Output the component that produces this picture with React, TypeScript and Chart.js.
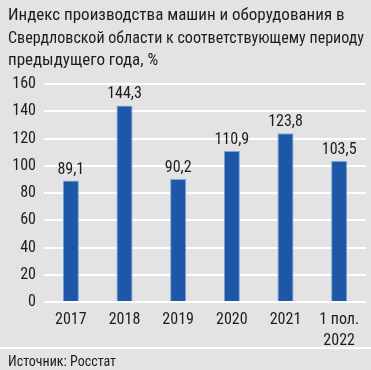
import React, { useEffect, useRef } from "react";
import { Chart, registerables } from "chart.js";

Chart.register(...registerables);

const titleLines = [
  "Индекс производства машин и оборудования в",
  "Свердловской области к соответствующему периоду",
  "предыдущего года, %",
];
const categories: (string | string[])[] = ["2017", "2018", "2019", "2020", "2021", ["1 пол.", "2022"]];
const values = [89.1, 144.3, 90.2, 110.9, 123.8, 103.5];
const valueLabels = ["89,1", "144,3", "90,2", "110,9", "123,8", "103,5"];
const yTicks = [0, 20, 40, 60, 80, 100, 120, 140, 160];
const sourceText = "Источник: Росстат";

const FONT = '"Liberation Sans Narrow", "Roboto Condensed", "Arial Narrow", "DejaVu Sans Condensed", sans-serif';
const TEXT = "#1c1c1c";
const BG = "#e3e3e3";

export default function App() {
  const ref = useRef<HTMLCanvasElement | null>(null);
  useEffect(() => {
    document.body.style.margin = "0";
    const canvas = ref.current!;
    const decor = {
      id: "decor",
      beforeDraw(chart: any) {
        const c = chart.ctx;
        c.save();
        c.fillStyle = BG;
        c.fillRect(0, 0, chart.width, chart.height);
        c.restore();
      },
      afterDraw(chart: any) {
        const c = chart.ctx;
        c.save();
        c.fillStyle = TEXT;
        c.textBaseline = "alphabetic";
        c.textAlign = "left";
        c.font = `17px ${FONT}`;
        titleLines.forEach((t, i) => c.fillText(t, 8, 20 + i * 22.5, 356));
        // value labels
        const meta = chart.getDatasetMeta(0);
        c.textAlign = "center";
        c.textBaseline = "bottom";
        c.font = `16px ${FONT}`;
        meta.data.forEach((bar: any, i: number) => {
          c.fillText(valueLabels[i], bar.x, bar.y - 3);
        });
        // separator
        c.fillStyle = "#ffffff";
        c.fillRect(0, 347, chart.width, 2);
        c.fillStyle = TEXT;
        c.textAlign = "left";
        c.textBaseline = "alphabetic";
        c.font = `14px ${FONT}`;
        c.fillText(sourceText, 8, 366);
        c.restore();
      },
    };
    const chart = new Chart(canvas, {
      type: "bar",
      data: {
        labels: categories,
        datasets: [
          {
            data: values,
            backgroundColor: "#1f57a8",
            borderColor: "#7ea6da",
            borderWidth: 1,
            barPercentage: 0.3,
            categoryPercentage: 1,
          },
        ],
      },
      options: {
        animation: false,
        responsive: false,
        maintainAspectRatio: false,
        devicePixelRatio: 1,
        layout: { padding: { top: 84, right: 5, left: 0, bottom: 0 } },
        plugins: { legend: { display: false }, tooltip: { enabled: false }, title: { display: false } },
        scales: {
          x: {
            grid: { display: false, drawTicks: false },
            border: { display: false },
            ticks: {
              color: TEXT,
              font: { family: FONT, size: 16, lineHeight: 1.3 },
              padding: 8,
              maxRotation: 0,
              autoSkip: false,
            },
            afterFit(s: any) {
              s.height = 68;
            },
          },
          y: {
            min: 0,
            max: 160,
            afterBuildTicks(s: any) {
              s.ticks = yTicks.map((v) => ({ value: v }));
            },
            grid: { color: "#ffffff", lineWidth: 2, drawTicks: false },
            border: { display: false },
            ticks: {
              color: TEXT,
              font: { family: FONT, size: 16 },
              padding: 8,
            },
            afterFit(s: any) {
              s.width = 44;
            },
          },
        },
      },
      plugins: [decor],
    });
    return () => chart.destroy();
  }, []);
  return (
    <div style={{ width: 371, height: 370, background: BG }}>
      <canvas ref={ref} width={371} height={370} style={{ display: "block", width: 371, height: 370 }} />
    </div>
  );
}
